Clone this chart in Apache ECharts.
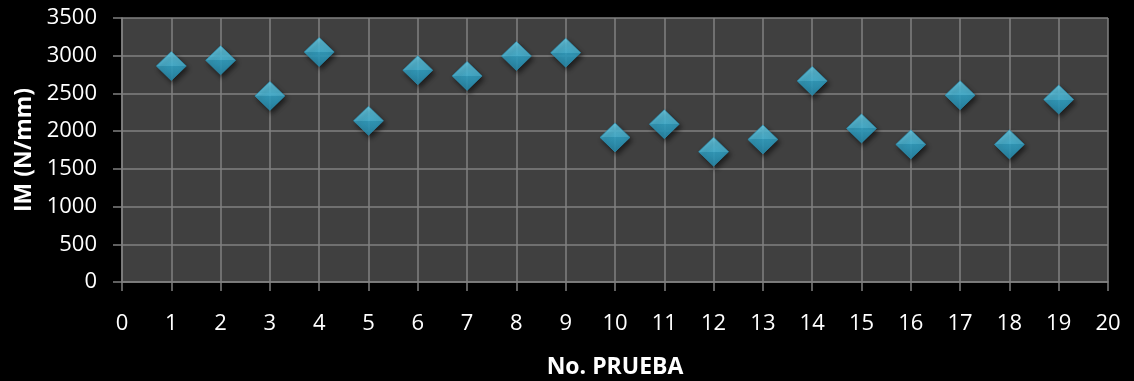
<!DOCTYPE html>
<html>
<head>
<meta charset="utf-8">
<script src="https://cdn.jsdelivr.net/npm/echarts@6/dist/echarts.min.js"></script>
<style>
html,body{margin:0;padding:0;background:#000;}
#chart{width:1134px;height:381px;}
</style>
</head>
<body>
<div id="chart"></div>
<script>
const pruebas = [1,2,3,4,5,6,7,8,9,10,11,12,13,14,15,16,17,18,19];
const imValues = [2863,2939,2467,3049,2137,2807,2732,2996,3040,1917,2093,1727,1890,2666,2036,1824,2476,1824,2419];
const xAxisTitle = 'No. PRUEBA';
const yAxisTitle = 'IM (N/mm)';

const chart = echarts.init(document.getElementById('chart'));
const gridColor = '#808080';
const font = '"Open Sans", sans-serif';
chart.setOption({
  backgroundColor: '#000000',
  animation: false,
  grid: {left: 122, right: 26, top: 18, bottom: 99, show: true, backgroundColor: '#404040', borderWidth: 0,
         containLabel: false, outerBoundsMode: 'none'},
  xAxis: {
    type: 'value', min: 0, max: 20, interval: 1,
    name: xAxisTitle, nameLocation: 'middle', nameGap: 74,
    nameTextStyle: {color: '#fff', fontFamily: font, fontWeight: 'bold', fontSize: 23},
    axisLine: {show: true, lineStyle: {color: gridColor, width: 1.5}},
    axisTick: {show: true, length: 9, lineStyle: {color: gridColor, width: 1.5}},
    axisLabel: {color: '#fff', fontFamily: font, fontSize: 22, margin: 31, formatter: v => String(v)},
    splitLine: {show: true, lineStyle: {color: gridColor, width: 1.5}}
  },
  yAxis: {
    type: 'value', min: 0, max: 3500, interval: 500,
    name: yAxisTitle, nameLocation: 'middle', nameGap: 86, nameRotate: 90,
    nameTextStyle: {color: '#fff', fontFamily: font, fontWeight: 'bold', fontSize: 23},
    axisLine: {show: true, lineStyle: {color: gridColor, width: 1.5}},
    axisTick: {show: true, length: 9, lineStyle: {color: gridColor, width: 1.5}},
    axisLabel: {color: '#fff', fontFamily: font, fontSize: 22, margin: 25, formatter: v => String(v)},
    splitLine: {show: true, lineStyle: {color: gridColor, width: 1.5}}
  },
  series: [{
    type: 'scatter',
    data: pruebas.map((p, i) => [p, imValues[i]]),
    symbol: 'diamond',
    symbolSize: [30, 29],
    itemStyle: {
      color: new echarts.graphic.LinearGradient(0, 0, 0, 1, [
        {offset: 0, color: '#6ad9f5'},
        {offset: 0.5, color: '#4cc6ea'},
        {offset: 0.5, color: '#35b0d6'},
        {offset: 1, color: '#2898bd'}
      ]),
      borderColor: '#2a93b6', borderWidth: 0.8,
      shadowBlur: 5, shadowColor: 'rgba(0,0,0,0.7)', shadowOffsetX: 2, shadowOffsetY: 3
    }
  }]
});
</script>
</body>
</html>
